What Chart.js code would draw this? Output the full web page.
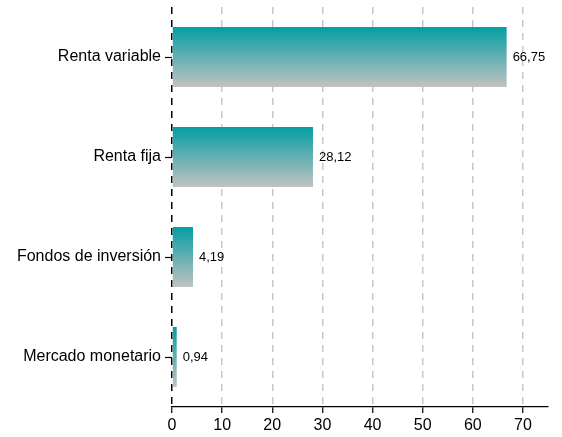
<!DOCTYPE html>
<html>
<head>
<meta charset="utf-8">
<script src="https://cdn.jsdelivr.net/npm/chart.js@4"></script>
<style>
html,body{margin:0;padding:0;background:#fff;}
#wrap{width:562px;height:437px;}
</style>
</head>
<body>
<div id="wrap"><canvas id="c" width="562" height="437"></canvas></div>
<script>
const categories = ["Renta variable", "Renta fija", "Fondos de inversión", "Mercado monetario"];
const values = [66.75, 28.12, 4.19, 0.94];
const valueLabels = ["66,75", "28,12", "4,19", "0,94"];

const TOP = 'rgb(4,158,163)';
const BOTTOM = 'rgb(194,194,194)';
const BAR_PCT = 0.6;

const labelPlugin = {
  id: 'valueLabels',
  afterDatasetsDraw(chart) {
    const ctx = chart.ctx;
    const meta = chart.getDatasetMeta(0);
    ctx.save();
    ctx.font = '13px "Liberation Sans", Arial, sans-serif';
    ctx.fillStyle = '#000';
    ctx.textAlign = 'left';
    ctx.textBaseline = 'middle';
    meta.data.forEach((el, i) => {
      ctx.fillText(valueLabels[i], el.x + 6, el.y);
    });
    ctx.restore();
  }
};

new Chart(document.getElementById('c'), {
  type: 'bar',
  data: {
    labels: categories,
    datasets: [{
      data: values,
      borderWidth: 0,
      barPercentage: BAR_PCT,
      categoryPercentage: 1,
      backgroundColor: (c) => {
        const chart = c.chart;
        const ys = chart.scales.y;
        if (!chart.chartArea || !ys || c.dataIndex === undefined) return TOP;
        const center = ys.getPixelForValue(c.dataIndex);
        const half = ys.height / categories.length * BAR_PCT / 2;
        if (!isFinite(center) || !isFinite(half)) return TOP;
        const g = chart.ctx.createLinearGradient(0, center - half, 0, center + half);
        g.addColorStop(0, TOP);
        g.addColorStop(1, BOTTOM);
        return g;
      }
    }]
  },
  options: {
    indexAxis: 'y',
    responsive: false,
    animation: false,
    layout: { padding: { top: 7, right: 14, left: 0, bottom: 0 } },
    plugins: { legend: { display: false }, tooltip: { enabled: false } },
    scales: {
      x: {
        min: 0, max: 75,
        ticks: {
          stepSize: 10, includeBounds: false,
          color: '#000', padding: 3,
          font: { family: '"Liberation Sans", Arial, sans-serif', size: 16 }
        },
        grid: {
          color: (c) => (c.tick && c.tick.value === 0) ? '#000' : '#c8c8c8',
          lineWidth: 1.5,
          tickColor: '#000', tickLength: 6, tickWidth: 1.2,
          drawTicks: true
        },
        border: { display: true, color: '#000', width: 1.2, dash: [7, 6] },
        afterFit: (s) => { s.height = 30; }
      },
      y: {
        ticks: {
          color: '#000', padding: 4,
          font: { family: '"Liberation Sans", Arial, sans-serif', size: 16 }
        },
        grid: {
          offset: false, drawOnChartArea: false, drawTicks: true,
          tickLength: 7, tickColor: '#000', tickWidth: 1.2
        },
        border: { display: false },
        afterFit: (s) => { s.width = 172; s.paddingTop = 0; s.paddingBottom = 0; }
      }
    }
  },
  plugins: [labelPlugin]
});
</script>
</body>
</html>
